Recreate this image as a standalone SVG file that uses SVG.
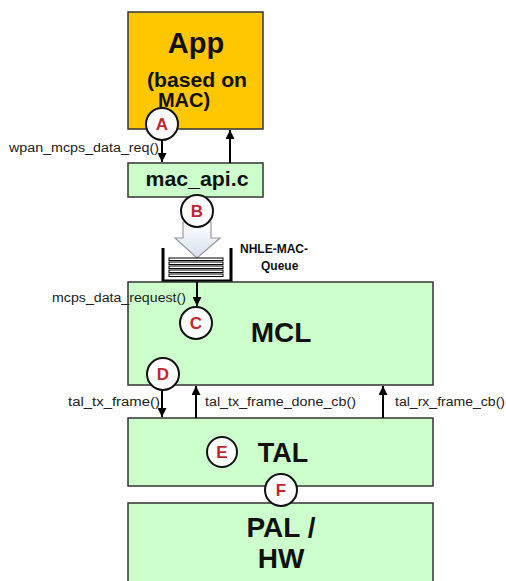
<svg xmlns="http://www.w3.org/2000/svg" width="506" height="581" viewBox="0 0 506 581">
<defs>
<marker id="ah" viewBox="0 0 10 10" refX="10" refY="5" markerWidth="10" markerHeight="9" orient="auto-start-reverse" markerUnits="userSpaceOnUse">
<path d="M0,0 L10,5 L0,10 z" fill="#000"/>
</marker>
<linearGradient id="bg" x1="0" y1="0" x2="0" y2="1">
<stop offset="0" stop-color="#FFFFFF"/>
<stop offset="1" stop-color="#D6E0F0"/>
</linearGradient>
<style>
.box{stroke:#333;stroke-width:1.5}
.green{fill:#CCFFCC}
.t{font-family:"Liberation Sans",Arial,sans-serif;font-weight:bold;fill:#111;text-anchor:middle}
.q{font-family:"Liberation Sans",Arial,sans-serif;font-weight:bold;font-size:12px;fill:#111}
.lbl{font-family:"Liberation Sans",Arial,sans-serif;font-size:12.5px;fill:#222}
.c{fill:#FFFFFF;stroke:#111;stroke-width:2}
.cl{font-family:"Liberation Sans",Arial,sans-serif;font-weight:bold;font-size:17px;fill:#C0282D;text-anchor:middle}
.ln{stroke:#000;stroke-width:2;fill:none}
</style>
</defs>
<rect width="506" height="581" fill="#FFFFFF"/>

<g id="app">
<rect class="box" x="128" y="12" width="135" height="117" fill="#FFC700"/>
<text class="t" x="196" y="53" font-size="29">App</text>
<text class="t" x="197" y="87" font-size="20" textLength="100" lengthAdjust="spacingAndGlyphs">(based on</text>
<text class="t" x="184" y="107" font-size="20">MAC)</text>
</g>

<g id="mac_api">
<rect class="box green" x="128" y="163" width="135" height="34"/>
<text class="t" x="197" y="186" font-size="20" textLength="103" lengthAdjust="spacingAndGlyphs">mac_api.c</text>
</g>

<g id="queue">
<path d="M183,222 L211,222 L211,238 L220,238 L197,258 L175,238 L183,238 Z" fill="url(#bg)" stroke="#999" stroke-width="1.2"/>
<path d="M163,248 L163,281 L231,281 L231,248" fill="none" stroke="#000" stroke-width="3"/>
<g fill="#FFFFFF" stroke="#000" stroke-width="1">
<rect x="169" y="258" width="54" height="2.5"/>
<rect x="169" y="262" width="54" height="2.5"/>
<rect x="169" y="266" width="54" height="2.5"/>
<rect x="169" y="270" width="54" height="2.5"/>
<rect x="169" y="274" width="54" height="2.5"/>
</g>
<text class="q" x="240" y="253">NHLE-MAC-</text>
<text class="q" x="261" y="270">Queue</text>
</g>

<g id="mcl">
<rect class="box green" x="128" y="282" width="305" height="103"/>
<text class="t" x="281" y="342" font-size="28">MCL</text>
</g>

<g id="tal">
<rect class="box green" x="128" y="418" width="305" height="68"/>
<text class="t" x="283" y="462" font-size="27">TAL</text>
</g>

<g id="pal">
<rect class="box green" x="128" y="503" width="305" height="90"/>
<text class="t" x="281" y="537" font-size="28">PAL /</text>
<text class="t" x="281" y="568" font-size="28">HW</text>
</g>

<g id="connectors">
<line class="ln" x1="162" y1="129" x2="162" y2="162" marker-end="url(#ah)"/>
<line class="ln" x1="230" y1="163" x2="230" y2="130" marker-end="url(#ah)"/>
<line class="ln" x1="197" y1="282" x2="197" y2="306" marker-end="url(#ah)"/>
<line class="ln" x1="162" y1="388" x2="162" y2="417" marker-end="url(#ah)"/>
<line class="ln" x1="196" y1="418" x2="196" y2="386" marker-end="url(#ah)"/>
<line class="ln" x1="383" y1="418" x2="383" y2="386" marker-end="url(#ah)"/>
<text class="lbl" x="9" y="152" textLength="150" lengthAdjust="spacingAndGlyphs">wpan_mcps_data_req()</text>
<text class="lbl" x="52" y="302" textLength="134" lengthAdjust="spacingAndGlyphs">mcps_data_request()</text>
<text class="lbl" x="68" y="406" textLength="92" lengthAdjust="spacingAndGlyphs">tal_tx_frame()</text>
<text class="lbl" x="205" y="406" textLength="151" lengthAdjust="spacingAndGlyphs">tal_tx_frame_done_cb()</text>
<text class="lbl" x="395" y="406" textLength="110" lengthAdjust="spacingAndGlyphs">tal_rx_frame_cb()</text>
</g>

<g id="markA"><circle class="c" cx="162" cy="124" r="16"/><text class="cl" x="162" y="130">A</text></g>
<g id="markB"><circle class="c" cx="197" cy="211" r="16"/><text class="cl" x="197" y="217">B</text></g>
<g id="markC"><circle class="c" cx="196" cy="323" r="16"/><text class="cl" x="196" y="329">C</text></g>
<g id="markD"><circle class="c" cx="163" cy="374" r="16"/><text class="cl" x="163" y="380">D</text></g>
<g id="markE"><circle class="c" cx="222" cy="452" r="15"/><text class="cl" x="222" y="458">E</text></g>
<g id="markF"><circle class="c" cx="281" cy="490" r="16"/><text class="cl" x="281" y="496">F</text></g>
</svg>
